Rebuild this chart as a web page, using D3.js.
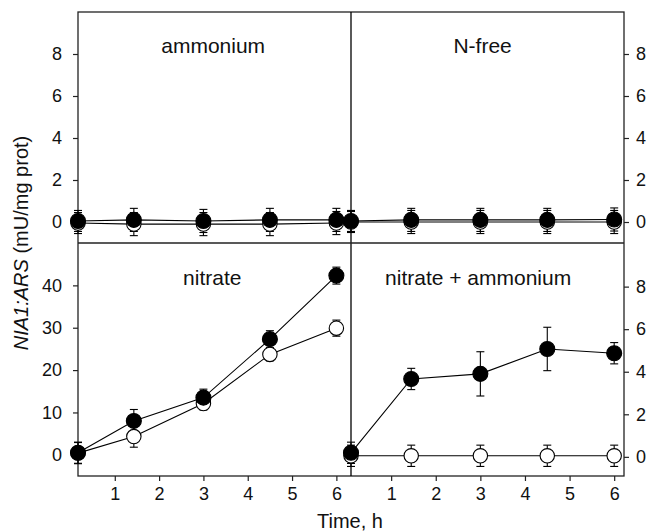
<!DOCTYPE html>
<html>
<head>
<meta charset="utf-8">
<script src="https://cdn.jsdelivr.net/npm/d3@7"></script>
<style>
  html, body { margin: 0; padding: 0; background: #fff; }
  svg { display: block; font-family: "Liberation Sans", Arial, sans-serif; }
</style>
</head>
<body>
<svg id="chart" width="649" height="532"></svg>
<script>
// ---- data ----
const timesLeft  = [0.17, 1.43, 3, 4.5, 6];
const timesRight = [0.1, 1.45, 3, 4.5, 6];

const ammoniumFilled = [0.05, 0.1, 0.05, 0.1, 0.1];
const ammoniumOpen   = [-0.05, -0.1, -0.1, -0.1, -0.05];
const ammoniumErr    = [0.5, 0.55, 0.55, 0.55, 0.55];

const nfreeFilled = [0.05, 0.1, 0.1, 0.1, 0.12];
const nfreeOpen   = [0, 0, 0, 0, 0];
const nfreeErr    = [0.5, 0.55, 0.55, 0.55, 0.55];

const nitrateFilled    = [0.5, 8.0, 13.5, 27.3, 42.3];
const nitrateFilledErr = [2.5, 2.7, 2.0, 2.0, 2.0];
const nitrateOpen      = [0.4, 4.3, 12.1, 23.7, 29.9];
const nitrateOpenErr   = [2.5, 2.5, 1.5, 1.5, 1.9];

const mixFilled    = [0.19, 3.66, 3.9, 5.07, 4.87];
const mixFilledErr = [0.5, 0.5, 1.04, 1.02, 0.5];
const mixOpen      = [0.05, 0.05, 0.05, 0.05, 0.05];
const mixOpenErr   = [0.5, 0.5, 0.5, 0.5, 0.5];

const topTicks      = [0, 2, 4, 6, 8];
const bottomLTicks  = [0, 10, 20, 30, 40];
const bottomRTicks  = [0, 2, 4, 6, 8];
const xTicks        = [1, 2, 3, 4, 5, 6];

const panelLabels = ["ammonium", "N-free", "nitrate", "nitrate + ammonium"];

// ---- layout ----
const L = 78, M = 351, R = 624, T = 12, H = 243, B = 476;
const svg = d3.select("#chart");

const xL = d3.scaleLinear().domain([0.17, 6.33]).range([L, M]);
const xR = d3.scaleLinear().domain([0.1, 6.22]).range([M, R]);
const yTop = d3.scaleLinear().domain([-1, 10]).range([H, T]);
const yBL = d3.scaleLinear().domain([-5, 50]).range([B, H]);
const yBR = d3.scaleLinear().domain([-0.9, 10.05]).range([B, H]);

const frameColor = "#222";

function styleAxis(g) {
  g.select(".domain").remove();
  g.selectAll(".tick line").attr("stroke", frameColor).attr("stroke-width", 1.2);
  g.selectAll(".tick text").attr("font-size", 18).attr("fill", "#111")
    .attr("font-family", "Liberation Sans, Arial, sans-serif");
}

// axes
svg.append("g").attr("transform", `translate(${L},0)`)
  .call(d3.axisLeft(yTop).tickValues(topTicks).tickSize(5).tickPadding(11).tickFormat(d3.format("d"))).call(styleAxis);
svg.append("g").attr("transform", `translate(${L},0)`)
  .call(d3.axisLeft(yBL).tickValues(bottomLTicks).tickSize(5).tickPadding(11).tickFormat(d3.format("d"))).call(styleAxis);
svg.append("g").attr("transform", `translate(${R},0)`)
  .call(d3.axisRight(yTop).tickValues(topTicks).tickSize(5).tickPadding(7).tickFormat(d3.format("d"))).call(styleAxis);
svg.append("g").attr("transform", `translate(${R},0)`)
  .call(d3.axisRight(yBR).tickValues(bottomRTicks).tickSize(5).tickPadding(7).tickFormat(d3.format("d"))).call(styleAxis);
svg.append("g").attr("transform", `translate(0,${B})`)
  .call(d3.axisBottom(xL).tickValues(xTicks).tickSize(5).tickPadding(6).tickFormat(d3.format("d"))).call(styleAxis);
svg.append("g").attr("transform", `translate(0,${B})`)
  .call(d3.axisBottom(xR).tickValues(xTicks).tickSize(5).tickPadding(6).tickFormat(d3.format("d"))).call(styleAxis);

// frame lines
const frame = svg.append("g").attr("stroke", frameColor).attr("stroke-width", 1.3).attr("fill", "none");
frame.append("rect").attr("x", L).attr("y", T).attr("width", R - L).attr("height", B - T);
frame.append("line").attr("x1", M).attr("x2", M).attr("y1", T).attr("y2", B).attr("stroke", "#000");
frame.append("line").attr("x1", L).attr("x2", R).attr("y1", H).attr("y2", H);

// series drawing
function drawSeries(xs, x, y, vals, errs) {
  const g = svg.append("g");
  const line = d3.line().x((d, i) => x(xs[i])).y(d => y(d));
  g.append("path").datum(vals).attr("d", line).attr("fill", "none")
    .attr("stroke", "#000").attr("stroke-width", 1.1);
  const eb = g.append("g").attr("stroke", "#000").attr("stroke-width", 1.1);
  vals.forEach((v, i) => {
    const cx = x(xs[i]);
    const y1 = y(v + errs[i]), y2 = y(v - errs[i]);
    eb.append("line").attr("x1", cx).attr("x2", cx).attr("y1", y1).attr("y2", y2);
    eb.append("line").attr("x1", cx - 4).attr("x2", cx + 4).attr("y1", y1).attr("y2", y1);
    eb.append("line").attr("x1", cx - 4).attr("x2", cx + 4).attr("y1", y2).attr("y2", y2);
  });
  return g;
}
function drawPoints(xs, x, y, vals, filled) {
  svg.append("g").selectAll("circle").data(vals).join("circle")
    .attr("cx", (d, i) => x(xs[i])).attr("cy", d => y(d))
    .attr("r", filled ? 7.5 : 7.2)
    .attr("fill", filled ? "#000" : "#fff")
    .attr("stroke", "#000").attr("stroke-width", 1.1);
}

// ammonium (top-left)
drawSeries(timesLeft, xL, yTop, ammoniumOpen, ammoniumErr);
drawSeries(timesLeft, xL, yTop, ammoniumFilled, ammoniumErr);
drawPoints(timesLeft, xL, yTop, ammoniumOpen, false);
drawPoints(timesLeft, xL, yTop, ammoniumFilled, true);

// N-free (top-right)
drawSeries(timesRight, xR, yTop, nfreeOpen, nfreeErr);
drawSeries(timesRight, xR, yTop, nfreeFilled, nfreeErr);
drawPoints(timesRight, xR, yTop, nfreeOpen, false);
drawPoints(timesRight, xR, yTop, nfreeFilled, true);

// nitrate (bottom-left)
drawSeries(timesLeft, xL, yBL, nitrateOpen, nitrateOpenErr);
drawSeries(timesLeft, xL, yBL, nitrateFilled, nitrateFilledErr);
drawPoints(timesLeft, xL, yBL, nitrateOpen, false);
drawPoints(timesLeft, xL, yBL, nitrateFilled, true);

// nitrate + ammonium (bottom-right)
drawSeries(timesRight, xR, yBR, mixOpen, mixOpenErr);
drawSeries(timesRight, xR, yBR, mixFilled, mixFilledErr);
drawPoints(timesRight, xR, yBR, mixOpen, false);
drawPoints(timesRight, xR, yBR, mixFilled, true);

// panel labels
const labelPos = [[xL, 3.22, 53], [xR, 3.05, 53], [xL, 3.2, 285], [xR, 2.95, 285]];
panelLabels.forEach((t, i) => {
  const [sx, xv, yy] = labelPos[i];
  svg.append("text").attr("x", sx(xv)).attr("y", yy).attr("text-anchor", "middle")
    .attr("font-size", 21).attr("fill", "#111").text(t);
});

// axis titles
svg.append("text").attr("x", 350).attr("y", 528).attr("text-anchor", "middle")
  .attr("font-size", 20).attr("fill", "#111").text("Time, h");

const yt = svg.append("text").attr("transform", "translate(28,243) rotate(-90)")
  .attr("text-anchor", "middle").attr("font-size", 20).attr("fill", "#111");
yt.append("tspan").attr("font-style", "italic").text("NIA1:ARS");
yt.append("tspan").text(" (mU/mg prot)");
</script>
</body>
</html>
